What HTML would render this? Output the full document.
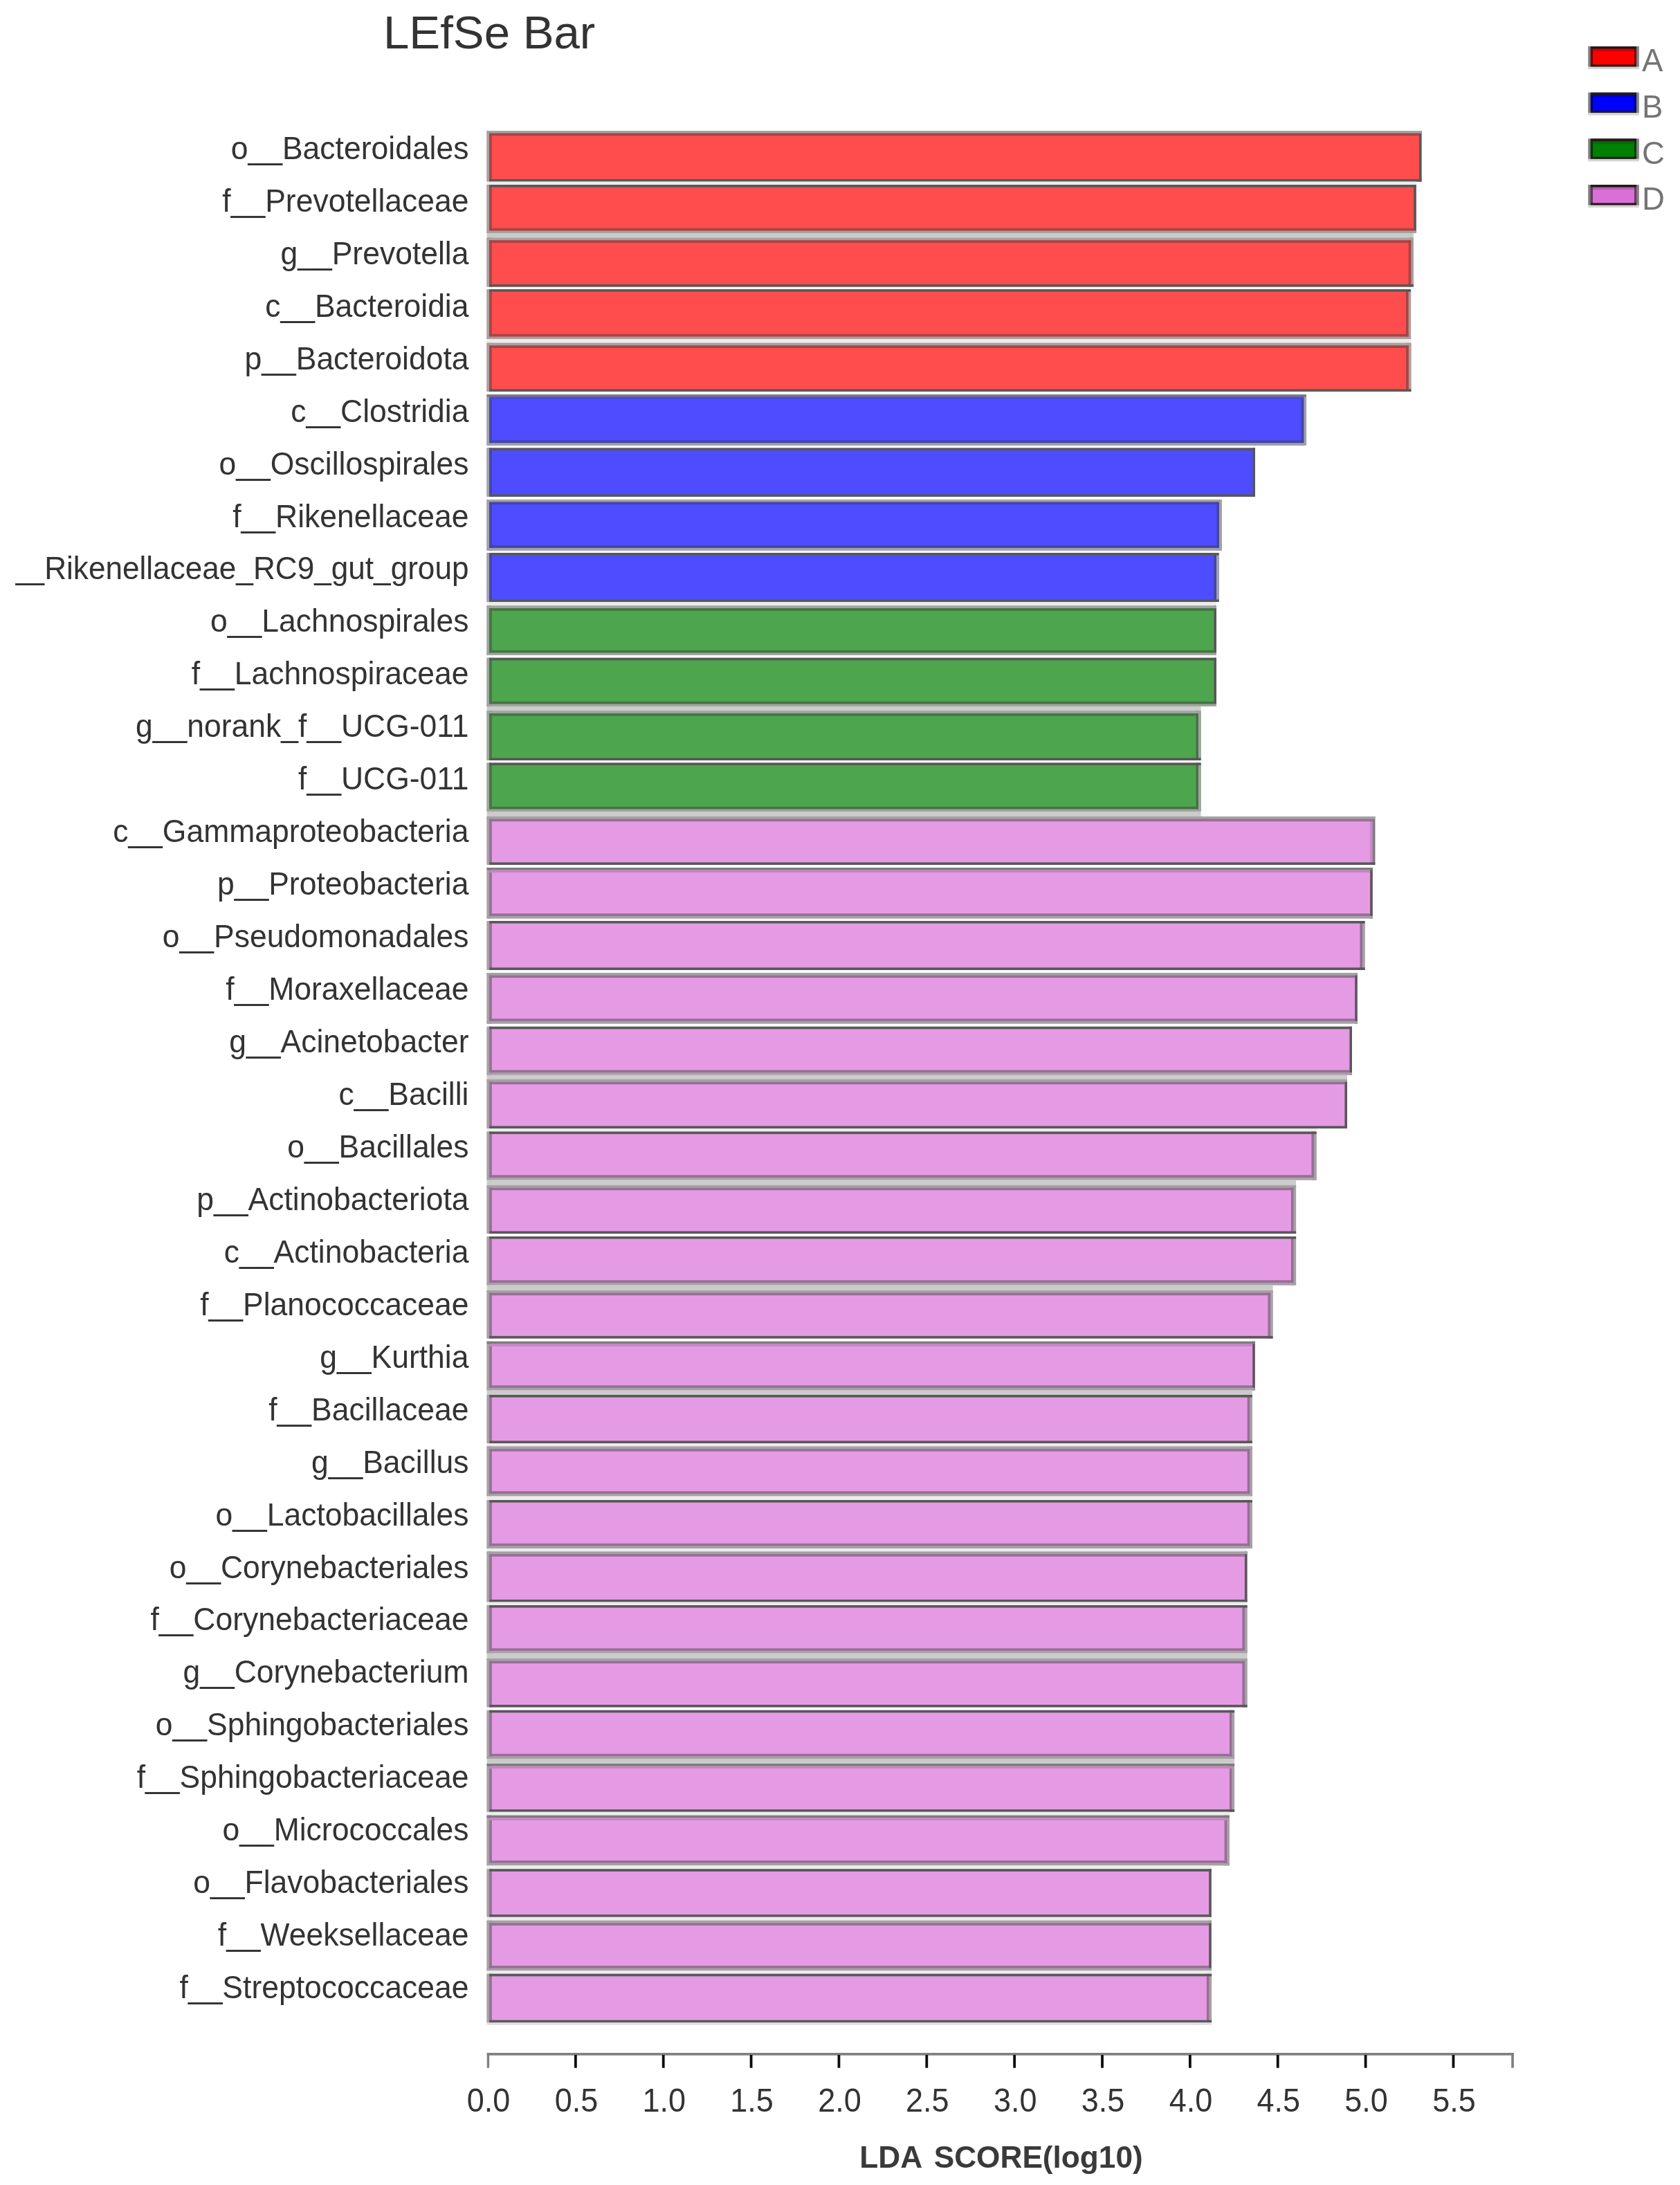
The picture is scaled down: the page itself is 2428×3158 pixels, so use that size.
<!DOCTYPE html>
<html><head><meta charset="utf-8"><title>LEfSe Bar</title>
<style>
html,body{margin:0;padding:0;background:#fff;}
svg{display:block;filter:blur(0.7px);}
text{font-family:"Liberation Sans",Arial,sans-serif;}
.yl{font-size:44.5px;fill:#333;text-anchor:end;}
.xl{font-size:45px;fill:#333;text-anchor:middle;}
.lg{font-size:45.5px;fill:#747474;}
</style></head><body>
<svg width="2428" height="3158" viewBox="0 0 2428 3158">
<defs><clipPath id="lc"><rect x="22" y="780" width="700" height="90"/></clipPath></defs>
<rect width="2428" height="3158" fill="#fff"/>
<text x="554" y="70" font-size="67.2" fill="#333">LEfSe Bar</text>

<rect x="703.60" y="189.00" width="1350.90" height="73.50" fill="#ff4d4d"/>
<rect x="703.60" y="189.00" width="3.60" height="73.50" fill="#a3a3a3"/>
<rect x="707.20" y="189.00" width="3.60" height="73.50" fill="#a34545"/>
<rect x="2050.90" y="189.00" width="3.60" height="73.50" fill="#585858"/>
<rect x="703.60" y="189.00" width="1350.90" height="3.60" fill="#a3a3a3"/>
<rect x="707.20" y="192.60" width="1343.70" height="3.60" fill="#a34545"/>
<rect x="707.20" y="258.90" width="1347.30" height="3.60" fill="#585858"/>
<rect x="703.60" y="262.50" width="1343.15" height="4.50" fill="#ececec"/>
<text class="yl" transform="translate(677.5,229.8) scale(1,1.045)">o__Bacteroidales</text>
<rect x="703.60" y="267.00" width="1343.15" height="70.00" fill="#ff4d4d"/>
<rect x="703.60" y="267.00" width="3.60" height="70.00" fill="#a3a3a3"/>
<rect x="707.20" y="267.00" width="3.60" height="70.00" fill="#a34545"/>
<rect x="2043.15" y="267.00" width="3.60" height="70.00" fill="#585858"/>
<rect x="707.20" y="267.00" width="1339.55" height="3.60" fill="#585858"/>
<rect x="703.60" y="333.40" width="1343.15" height="3.60" fill="#a3a3a3"/>
<rect x="707.20" y="329.80" width="1335.95" height="3.60" fill="#a34545"/>
<rect x="703.60" y="337.00" width="1339.25" height="6.75" fill="#cbcbcb"/>
<text class="yl" transform="translate(677.5,305.8) scale(1,1.045)">f__Prevotellaceae</text>
<rect x="703.60" y="343.75" width="1339.25" height="70.75" fill="#ff4d4d"/>
<rect x="703.60" y="343.75" width="3.60" height="70.75" fill="#a3a3a3"/>
<rect x="707.20" y="343.75" width="3.60" height="70.75" fill="#a34545"/>
<rect x="2039.25" y="343.75" width="3.60" height="70.75" fill="#a3a3a3"/>
<rect x="2035.65" y="343.75" width="3.60" height="70.75" fill="#a34545"/>
<rect x="703.60" y="343.75" width="1339.25" height="3.60" fill="#a3a3a3"/>
<rect x="707.20" y="347.35" width="1332.05" height="3.60" fill="#a34545"/>
<rect x="707.20" y="410.90" width="1335.65" height="3.60" fill="#585858"/>
<text class="yl" transform="translate(677.5,381.7) scale(1,1.045)">g__Prevotella</text>
<rect x="703.60" y="418.00" width="1335.50" height="72.00" fill="#ff4d4d"/>
<rect x="703.60" y="418.00" width="3.60" height="72.00" fill="#a3a3a3"/>
<rect x="707.20" y="418.00" width="3.60" height="72.00" fill="#a34545"/>
<rect x="2035.50" y="418.00" width="3.60" height="72.00" fill="#a3a3a3"/>
<rect x="2031.90" y="418.00" width="3.60" height="72.00" fill="#a34545"/>
<rect x="707.20" y="418.00" width="1331.90" height="3.60" fill="#585858"/>
<rect x="703.60" y="486.40" width="1335.50" height="3.60" fill="#a3a3a3"/>
<rect x="707.20" y="482.80" width="1328.30" height="3.60" fill="#a34545"/>
<rect x="703.60" y="490.00" width="1335.50" height="5.75" fill="#ececec"/>
<text class="yl" transform="translate(677.5,457.7) scale(1,1.045)">c__Bacteroidia</text>
<rect x="703.60" y="495.75" width="1335.75" height="70.25" fill="#ff4d4d"/>
<rect x="703.60" y="495.75" width="3.60" height="70.25" fill="#a3a3a3"/>
<rect x="707.20" y="495.75" width="3.60" height="70.25" fill="#a34545"/>
<rect x="2035.75" y="495.75" width="3.60" height="70.25" fill="#a3a3a3"/>
<rect x="2032.15" y="495.75" width="3.60" height="70.25" fill="#a34545"/>
<rect x="703.60" y="495.75" width="1335.75" height="3.60" fill="#a3a3a3"/>
<rect x="707.20" y="499.35" width="1328.55" height="3.60" fill="#a34545"/>
<rect x="707.20" y="562.40" width="1332.15" height="3.60" fill="#585858"/>
<text class="yl" transform="translate(677.5,533.6) scale(1,1.045)">p__Bacteroidota</text>
<rect x="703.60" y="570.00" width="1184.25" height="73.75" fill="#4d4dff"/>
<rect x="703.60" y="570.00" width="3.60" height="73.75" fill="#a3a3a3"/>
<rect x="707.20" y="570.00" width="3.60" height="73.75" fill="#4545a3"/>
<rect x="1884.25" y="570.00" width="3.60" height="73.75" fill="#a3a3a3"/>
<rect x="1880.65" y="570.00" width="3.60" height="73.75" fill="#4545a3"/>
<rect x="703.60" y="570.00" width="1184.25" height="3.60" fill="#7c7c7c"/>
<rect x="707.20" y="573.60" width="1177.05" height="3.60" fill="#4a4ad8"/>
<rect x="703.60" y="640.15" width="1184.25" height="3.60" fill="#a3a3a3"/>
<rect x="707.20" y="636.55" width="1177.05" height="3.60" fill="#4545a3"/>
<text class="yl" transform="translate(677.5,609.5) scale(1,1.045)">c__Clostridia</text>
<rect x="703.60" y="647.50" width="1110.40" height="70.50" fill="#4d4dff"/>
<rect x="703.60" y="647.50" width="3.60" height="70.50" fill="#a3a3a3"/>
<rect x="707.20" y="647.50" width="3.60" height="70.50" fill="#4545a3"/>
<rect x="1810.40" y="647.50" width="3.60" height="70.50" fill="#585858"/>
<rect x="707.20" y="647.50" width="1106.80" height="3.60" fill="#585858"/>
<rect x="707.20" y="714.40" width="1106.80" height="3.60" fill="#585858"/>
<text class="yl" transform="translate(677.5,685.5) scale(1,1.045)">o__Oscillospirales</text>
<rect x="703.60" y="722.00" width="1062.00" height="73.50" fill="#4d4dff"/>
<rect x="703.60" y="722.00" width="3.60" height="73.50" fill="#a3a3a3"/>
<rect x="707.20" y="722.00" width="3.60" height="73.50" fill="#4545a3"/>
<rect x="1762.00" y="722.00" width="3.60" height="73.50" fill="#a3a3a3"/>
<rect x="1758.40" y="722.00" width="3.60" height="73.50" fill="#4545a3"/>
<rect x="703.60" y="722.00" width="1062.00" height="3.60" fill="#a3a3a3"/>
<rect x="707.20" y="725.60" width="1054.80" height="3.60" fill="#4545a3"/>
<rect x="703.60" y="791.90" width="1062.00" height="3.60" fill="#a3a3a3"/>
<rect x="707.20" y="788.30" width="1054.80" height="3.60" fill="#4545a3"/>
<text class="yl" transform="translate(677.5,761.5) scale(1,1.045)">f__Rikenellaceae</text>
<rect x="703.60" y="799.00" width="1058.00" height="71.00" fill="#4d4dff"/>
<rect x="703.60" y="799.00" width="3.60" height="71.00" fill="#a3a3a3"/>
<rect x="707.20" y="799.00" width="3.60" height="71.00" fill="#4545a3"/>
<rect x="1758.00" y="799.00" width="3.60" height="71.00" fill="#a3a3a3"/>
<rect x="1754.40" y="799.00" width="3.60" height="71.00" fill="#4545a3"/>
<rect x="707.20" y="799.00" width="1054.40" height="3.60" fill="#585858"/>
<rect x="707.20" y="866.40" width="1054.40" height="3.60" fill="#585858"/>
<rect x="703.60" y="870.00" width="1054.40" height="5.50" fill="#ececec"/>
<g clip-path="url(#lc)">
<text class="yl" transform="translate(677.5,837.4) scale(1,1.045)" textLength="687" lengthAdjust="spacingAndGlyphs">g__Rikenellaceae_RC9_gut_group</text>
</g>
<rect x="703.60" y="875.50" width="1054.40" height="71.50" fill="#4da64d"/>
<rect x="703.60" y="875.50" width="3.60" height="71.50" fill="#a3a3a3"/>
<rect x="707.20" y="875.50" width="3.60" height="71.50" fill="#457445"/>
<rect x="1754.40" y="875.50" width="3.60" height="71.50" fill="#585858"/>
<rect x="703.60" y="875.50" width="1054.40" height="3.60" fill="#a3a3a3"/>
<rect x="707.20" y="879.10" width="1047.20" height="3.60" fill="#457445"/>
<rect x="703.60" y="943.40" width="1054.40" height="3.60" fill="#a3a3a3"/>
<rect x="707.20" y="939.80" width="1047.20" height="3.60" fill="#457445"/>
<text class="yl" transform="translate(677.5,913.4) scale(1,1.045)">o__Lachnospirales</text>
<rect x="703.60" y="950.75" width="1054.40" height="70.25" fill="#4da64d"/>
<rect x="703.60" y="950.75" width="3.60" height="70.25" fill="#a3a3a3"/>
<rect x="707.20" y="950.75" width="3.60" height="70.25" fill="#457445"/>
<rect x="1754.40" y="950.75" width="3.60" height="70.25" fill="#585858"/>
<rect x="707.20" y="950.75" width="1050.80" height="3.60" fill="#585858"/>
<rect x="703.60" y="1017.40" width="1054.40" height="3.60" fill="#a3a3a3"/>
<rect x="707.20" y="1013.80" width="1047.20" height="3.60" fill="#457445"/>
<rect x="703.60" y="1021.00" width="1032.00" height="6.50" fill="#cbcbcb"/>
<text class="yl" transform="translate(677.5,989.3) scale(1,1.045)">f__Lachnospiraceae</text>
<rect x="703.60" y="1027.50" width="1032.00" height="71.50" fill="#4da64d"/>
<rect x="703.60" y="1027.50" width="3.60" height="71.50" fill="#a3a3a3"/>
<rect x="707.20" y="1027.50" width="3.60" height="71.50" fill="#457445"/>
<rect x="1732.00" y="1027.50" width="3.60" height="71.50" fill="#a3a3a3"/>
<rect x="1728.40" y="1027.50" width="3.60" height="71.50" fill="#457445"/>
<rect x="703.60" y="1027.50" width="1032.00" height="3.60" fill="#a3a3a3"/>
<rect x="707.20" y="1031.10" width="1024.80" height="3.60" fill="#457445"/>
<rect x="707.20" y="1095.40" width="1028.40" height="3.60" fill="#585858"/>
<text class="yl" transform="translate(677.5,1065.2) scale(1,1.045)">g__norank_f__UCG-011</text>
<rect x="703.60" y="1102.50" width="1032.00" height="70.50" fill="#4da64d"/>
<rect x="703.60" y="1102.50" width="3.60" height="70.50" fill="#a3a3a3"/>
<rect x="707.20" y="1102.50" width="3.60" height="70.50" fill="#457445"/>
<rect x="1732.00" y="1102.50" width="3.60" height="70.50" fill="#a3a3a3"/>
<rect x="1728.40" y="1102.50" width="3.60" height="70.50" fill="#457445"/>
<rect x="707.20" y="1102.50" width="1028.40" height="3.60" fill="#585858"/>
<rect x="703.60" y="1169.40" width="1032.00" height="3.60" fill="#a3a3a3"/>
<rect x="707.20" y="1165.80" width="1024.80" height="3.60" fill="#457445"/>
<rect x="703.60" y="1173.00" width="1032.00" height="7.00" fill="#cbcbcb"/>
<text class="yl" transform="translate(677.5,1141.2) scale(1,1.045)">f__UCG-011</text>
<rect x="703.60" y="1180.00" width="1283.75" height="70.00" fill="#e59be3"/>
<rect x="703.60" y="1180.00" width="3.60" height="70.00" fill="#a3a3a3"/>
<rect x="707.20" y="1180.00" width="3.60" height="70.00" fill="#966e95"/>
<rect x="1983.75" y="1180.00" width="3.60" height="70.00" fill="#7c7c7c"/>
<rect x="1980.15" y="1180.00" width="3.60" height="70.00" fill="#c388c2"/>
<rect x="703.60" y="1180.00" width="1283.75" height="3.60" fill="#a3a3a3"/>
<rect x="707.20" y="1183.60" width="1276.55" height="3.60" fill="#966e95"/>
<rect x="707.20" y="1246.40" width="1280.15" height="3.60" fill="#585858"/>
<text class="yl" transform="translate(677.5,1217.2) scale(1,1.045)">c__Gammaproteobacteria</text>
<rect x="703.60" y="1254.00" width="1280.15" height="73.50" fill="#e59be3"/>
<rect x="703.60" y="1254.00" width="3.60" height="73.50" fill="#a3a3a3"/>
<rect x="707.20" y="1254.00" width="3.60" height="73.50" fill="#966e95"/>
<rect x="1980.15" y="1254.00" width="3.60" height="73.50" fill="#585858"/>
<rect x="703.60" y="1254.00" width="1280.15" height="3.60" fill="#7c7c7c"/>
<rect x="707.20" y="1257.60" width="1272.95" height="3.60" fill="#c388c2"/>
<rect x="703.60" y="1323.90" width="1280.15" height="3.60" fill="#a3a3a3"/>
<rect x="707.20" y="1320.30" width="1272.95" height="3.60" fill="#966e95"/>
<text class="yl" transform="translate(677.5,1293.1) scale(1,1.045)">p__Proteobacteria</text>
<rect x="703.60" y="1331.00" width="1269.00" height="71.00" fill="#e59be3"/>
<rect x="703.60" y="1331.00" width="3.60" height="71.00" fill="#a3a3a3"/>
<rect x="707.20" y="1331.00" width="3.60" height="71.00" fill="#966e95"/>
<rect x="1969.00" y="1331.00" width="3.60" height="71.00" fill="#a3a3a3"/>
<rect x="1965.40" y="1331.00" width="3.60" height="71.00" fill="#966e95"/>
<rect x="707.20" y="1331.00" width="1265.40" height="3.60" fill="#585858"/>
<rect x="707.20" y="1398.40" width="1265.40" height="3.60" fill="#585858"/>
<text class="yl" transform="translate(677.5,1369.0) scale(1,1.045)">o__Pseudomonadales</text>
<rect x="703.60" y="1406.00" width="1258.15" height="73.50" fill="#e59be3"/>
<rect x="703.60" y="1406.00" width="3.60" height="73.50" fill="#a3a3a3"/>
<rect x="707.20" y="1406.00" width="3.60" height="73.50" fill="#966e95"/>
<rect x="1958.15" y="1406.00" width="3.60" height="73.50" fill="#585858"/>
<rect x="703.60" y="1406.00" width="1258.15" height="3.60" fill="#a3a3a3"/>
<rect x="707.20" y="1409.60" width="1250.95" height="3.60" fill="#966e95"/>
<rect x="703.60" y="1475.90" width="1258.15" height="3.60" fill="#a3a3a3"/>
<rect x="707.20" y="1472.30" width="1250.95" height="3.60" fill="#966e95"/>
<text class="yl" transform="translate(677.5,1445.0) scale(1,1.045)">f__Moraxellaceae</text>
<rect x="703.60" y="1483.75" width="1250.40" height="70.00" fill="#e59be3"/>
<rect x="703.60" y="1483.75" width="3.60" height="70.00" fill="#a3a3a3"/>
<rect x="707.20" y="1483.75" width="3.60" height="70.00" fill="#966e95"/>
<rect x="1950.40" y="1483.75" width="3.60" height="70.00" fill="#585858"/>
<rect x="707.20" y="1483.75" width="1246.80" height="3.60" fill="#585858"/>
<rect x="703.60" y="1550.15" width="1250.40" height="3.60" fill="#a3a3a3"/>
<rect x="707.20" y="1546.55" width="1243.20" height="3.60" fill="#966e95"/>
<rect x="703.60" y="1553.75" width="1243.40" height="6.25" fill="#cbcbcb"/>
<text class="yl" transform="translate(677.5,1521.0) scale(1,1.045)">g__Acinetobacter</text>
<rect x="703.60" y="1560.00" width="1243.40" height="71.00" fill="#e59be3"/>
<rect x="703.60" y="1560.00" width="3.60" height="71.00" fill="#a3a3a3"/>
<rect x="707.20" y="1560.00" width="3.60" height="71.00" fill="#966e95"/>
<rect x="1943.40" y="1560.00" width="3.60" height="71.00" fill="#585858"/>
<rect x="703.60" y="1560.00" width="1243.40" height="3.60" fill="#a3a3a3"/>
<rect x="707.20" y="1563.60" width="1236.20" height="3.60" fill="#966e95"/>
<rect x="707.20" y="1627.40" width="1239.80" height="3.60" fill="#585858"/>
<rect x="703.60" y="1631.00" width="1199.00" height="4.50" fill="#ececec"/>
<text class="yl" transform="translate(677.5,1596.9) scale(1,1.045)">c__Bacilli</text>
<rect x="703.60" y="1635.50" width="1199.00" height="70.00" fill="#e59be3"/>
<rect x="703.60" y="1635.50" width="3.60" height="70.00" fill="#a3a3a3"/>
<rect x="707.20" y="1635.50" width="3.60" height="70.00" fill="#966e95"/>
<rect x="1899.00" y="1635.50" width="3.60" height="70.00" fill="#a3a3a3"/>
<rect x="1895.40" y="1635.50" width="3.60" height="70.00" fill="#966e95"/>
<rect x="707.20" y="1635.50" width="1195.40" height="3.60" fill="#585858"/>
<rect x="703.60" y="1701.90" width="1199.00" height="3.60" fill="#a3a3a3"/>
<rect x="707.20" y="1698.30" width="1191.80" height="3.60" fill="#966e95"/>
<rect x="703.60" y="1705.50" width="1169.50" height="7.50" fill="#cbcbcb"/>
<text class="yl" transform="translate(677.5,1672.8) scale(1,1.045)">o__Bacillales</text>
<rect x="703.60" y="1713.00" width="1169.50" height="70.00" fill="#e59be3"/>
<rect x="703.60" y="1713.00" width="3.60" height="70.00" fill="#a3a3a3"/>
<rect x="707.20" y="1713.00" width="3.60" height="70.00" fill="#966e95"/>
<rect x="1869.50" y="1713.00" width="3.60" height="70.00" fill="#a3a3a3"/>
<rect x="1865.90" y="1713.00" width="3.60" height="70.00" fill="#966e95"/>
<rect x="703.60" y="1713.00" width="1169.50" height="3.60" fill="#a3a3a3"/>
<rect x="707.20" y="1716.60" width="1162.30" height="3.60" fill="#966e95"/>
<rect x="707.20" y="1779.40" width="1165.90" height="3.60" fill="#585858"/>
<text class="yl" transform="translate(677.5,1748.8) scale(1,1.045)">p__Actinobacteriota</text>
<rect x="703.60" y="1787.00" width="1169.50" height="70.50" fill="#e59be3"/>
<rect x="703.60" y="1787.00" width="3.60" height="70.50" fill="#a3a3a3"/>
<rect x="707.20" y="1787.00" width="3.60" height="70.50" fill="#966e95"/>
<rect x="1869.50" y="1787.00" width="3.60" height="70.50" fill="#a3a3a3"/>
<rect x="1865.90" y="1787.00" width="3.60" height="70.50" fill="#966e95"/>
<rect x="707.20" y="1787.00" width="1165.90" height="3.60" fill="#585858"/>
<rect x="703.60" y="1853.90" width="1169.50" height="3.60" fill="#a3a3a3"/>
<rect x="707.20" y="1850.30" width="1162.30" height="3.60" fill="#966e95"/>
<rect x="703.60" y="1857.50" width="1136.00" height="7.50" fill="#cbcbcb"/>
<text class="yl" transform="translate(677.5,1824.8) scale(1,1.045)">c__Actinobacteria</text>
<rect x="703.60" y="1865.00" width="1136.00" height="69.50" fill="#e59be3"/>
<rect x="703.60" y="1865.00" width="3.60" height="69.50" fill="#a3a3a3"/>
<rect x="707.20" y="1865.00" width="3.60" height="69.50" fill="#966e95"/>
<rect x="1836.00" y="1865.00" width="3.60" height="69.50" fill="#a3a3a3"/>
<rect x="1832.40" y="1865.00" width="3.60" height="69.50" fill="#966e95"/>
<rect x="703.60" y="1865.00" width="1136.00" height="3.60" fill="#a3a3a3"/>
<rect x="707.20" y="1868.60" width="1128.80" height="3.60" fill="#966e95"/>
<rect x="707.20" y="1930.90" width="1132.40" height="3.60" fill="#585858"/>
<text class="yl" transform="translate(677.5,1900.7) scale(1,1.045)">f__Planococcaceae</text>
<rect x="703.60" y="1938.75" width="1110.15" height="70.75" fill="#e59be3"/>
<rect x="703.60" y="1938.75" width="3.60" height="70.75" fill="#a3a3a3"/>
<rect x="707.20" y="1938.75" width="3.60" height="70.75" fill="#966e95"/>
<rect x="1810.15" y="1938.75" width="3.60" height="70.75" fill="#585858"/>
<rect x="703.60" y="1938.75" width="1110.15" height="3.60" fill="#7c7c7c"/>
<rect x="707.20" y="1942.35" width="1102.95" height="3.60" fill="#c388c2"/>
<rect x="703.60" y="2005.90" width="1110.15" height="3.60" fill="#a3a3a3"/>
<rect x="707.20" y="2002.30" width="1102.95" height="3.60" fill="#966e95"/>
<rect x="703.60" y="2009.50" width="1106.25" height="6.50" fill="#cbcbcb"/>
<text class="yl" transform="translate(677.5,1976.7) scale(1,1.045)">g__Kurthia</text>
<rect x="703.60" y="2016.00" width="1106.25" height="70.00" fill="#e59be3"/>
<rect x="703.60" y="2016.00" width="3.60" height="70.00" fill="#a3a3a3"/>
<rect x="707.20" y="2016.00" width="3.60" height="70.00" fill="#966e95"/>
<rect x="1806.25" y="2016.00" width="3.60" height="70.00" fill="#a3a3a3"/>
<rect x="1802.65" y="2016.00" width="3.60" height="70.00" fill="#966e95"/>
<rect x="707.20" y="2016.00" width="1102.65" height="3.60" fill="#585858"/>
<rect x="707.20" y="2082.40" width="1102.65" height="3.60" fill="#585858"/>
<rect x="703.60" y="2086.00" width="1106.25" height="4.50" fill="#ececec"/>
<text class="yl" transform="translate(677.5,2052.6) scale(1,1.045)">f__Bacillaceae</text>
<rect x="703.60" y="2090.50" width="1106.25" height="72.00" fill="#e59be3"/>
<rect x="703.60" y="2090.50" width="3.60" height="72.00" fill="#a3a3a3"/>
<rect x="707.20" y="2090.50" width="3.60" height="72.00" fill="#966e95"/>
<rect x="1806.25" y="2090.50" width="3.60" height="72.00" fill="#a3a3a3"/>
<rect x="1802.65" y="2090.50" width="3.60" height="72.00" fill="#966e95"/>
<rect x="703.60" y="2090.50" width="1106.25" height="3.60" fill="#a3a3a3"/>
<rect x="707.20" y="2094.10" width="1099.05" height="3.60" fill="#966e95"/>
<rect x="703.60" y="2158.90" width="1106.25" height="3.60" fill="#a3a3a3"/>
<rect x="707.20" y="2155.30" width="1099.05" height="3.60" fill="#966e95"/>
<rect x="703.60" y="2162.50" width="1106.25" height="5.50" fill="#ececec"/>
<text class="yl" transform="translate(677.5,2128.6) scale(1,1.045)">g__Bacillus</text>
<rect x="703.60" y="2168.00" width="1106.25" height="70.00" fill="#e59be3"/>
<rect x="703.60" y="2168.00" width="3.60" height="70.00" fill="#a3a3a3"/>
<rect x="707.20" y="2168.00" width="3.60" height="70.00" fill="#966e95"/>
<rect x="1806.25" y="2168.00" width="3.60" height="70.00" fill="#a3a3a3"/>
<rect x="1802.65" y="2168.00" width="3.60" height="70.00" fill="#966e95"/>
<rect x="707.20" y="2168.00" width="1102.65" height="3.60" fill="#585858"/>
<rect x="703.60" y="2234.40" width="1106.25" height="3.60" fill="#a3a3a3"/>
<rect x="707.20" y="2230.80" width="1099.05" height="3.60" fill="#966e95"/>
<rect x="703.60" y="2238.00" width="1098.90" height="4.50" fill="#ececec"/>
<text class="yl" transform="translate(677.5,2204.5) scale(1,1.045)">o__Lactobacillales</text>
<rect x="703.60" y="2242.50" width="1098.90" height="73.00" fill="#e59be3"/>
<rect x="703.60" y="2242.50" width="3.60" height="73.00" fill="#a3a3a3"/>
<rect x="707.20" y="2242.50" width="3.60" height="73.00" fill="#966e95"/>
<rect x="1798.90" y="2242.50" width="3.60" height="73.00" fill="#585858"/>
<rect x="703.60" y="2242.50" width="1098.90" height="3.60" fill="#a3a3a3"/>
<rect x="707.20" y="2246.10" width="1091.70" height="3.60" fill="#966e95"/>
<rect x="707.20" y="2311.90" width="1095.30" height="3.60" fill="#585858"/>
<rect x="703.60" y="2315.50" width="1098.90" height="4.50" fill="#ececec"/>
<text class="yl" transform="translate(677.5,2280.5) scale(1,1.045)">o__Corynebacteriales</text>
<rect x="703.60" y="2320.00" width="1099.00" height="69.50" fill="#e59be3"/>
<rect x="703.60" y="2320.00" width="3.60" height="69.50" fill="#a3a3a3"/>
<rect x="707.20" y="2320.00" width="3.60" height="69.50" fill="#966e95"/>
<rect x="1799.00" y="2320.00" width="3.60" height="69.50" fill="#a3a3a3"/>
<rect x="1795.40" y="2320.00" width="3.60" height="69.50" fill="#966e95"/>
<rect x="707.20" y="2320.00" width="1095.40" height="3.60" fill="#585858"/>
<rect x="703.60" y="2385.90" width="1099.00" height="3.60" fill="#a3a3a3"/>
<rect x="707.20" y="2382.30" width="1091.80" height="3.60" fill="#966e95"/>
<rect x="703.60" y="2389.50" width="1099.00" height="7.50" fill="#cbcbcb"/>
<text class="yl" transform="translate(677.5,2356.4) scale(1,1.045)">f__Corynebacteriaceae</text>
<rect x="703.60" y="2397.00" width="1099.00" height="70.50" fill="#e59be3"/>
<rect x="703.60" y="2397.00" width="3.60" height="70.50" fill="#a3a3a3"/>
<rect x="707.20" y="2397.00" width="3.60" height="70.50" fill="#966e95"/>
<rect x="1799.00" y="2397.00" width="3.60" height="70.50" fill="#a3a3a3"/>
<rect x="1795.40" y="2397.00" width="3.60" height="70.50" fill="#966e95"/>
<rect x="703.60" y="2397.00" width="1099.00" height="3.60" fill="#a3a3a3"/>
<rect x="707.20" y="2400.60" width="1091.80" height="3.60" fill="#966e95"/>
<rect x="707.20" y="2463.90" width="1095.40" height="3.60" fill="#585858"/>
<text class="yl" transform="translate(677.5,2432.4) scale(1,1.045)">g__Corynebacterium</text>
<rect x="703.60" y="2471.75" width="1080.50" height="70.25" fill="#e59be3"/>
<rect x="703.60" y="2471.75" width="3.60" height="70.25" fill="#a3a3a3"/>
<rect x="707.20" y="2471.75" width="3.60" height="70.25" fill="#966e95"/>
<rect x="1780.50" y="2471.75" width="3.60" height="70.25" fill="#a3a3a3"/>
<rect x="1776.90" y="2471.75" width="3.60" height="70.25" fill="#966e95"/>
<rect x="707.20" y="2471.75" width="1076.90" height="3.60" fill="#585858"/>
<rect x="703.60" y="2538.40" width="1080.50" height="3.60" fill="#a3a3a3"/>
<rect x="707.20" y="2534.80" width="1073.30" height="3.60" fill="#966e95"/>
<rect x="703.60" y="2542.00" width="1080.50" height="7.00" fill="#cbcbcb"/>
<text class="yl" transform="translate(677.5,2508.3) scale(1,1.045)">o__Sphingobacteriales</text>
<rect x="703.60" y="2549.00" width="1080.50" height="69.75" fill="#e59be3"/>
<rect x="703.60" y="2549.00" width="3.60" height="69.75" fill="#a3a3a3"/>
<rect x="707.20" y="2549.00" width="3.60" height="69.75" fill="#966e95"/>
<rect x="1780.50" y="2549.00" width="3.60" height="69.75" fill="#a3a3a3"/>
<rect x="1776.90" y="2549.00" width="3.60" height="69.75" fill="#966e95"/>
<rect x="703.60" y="2549.00" width="1080.50" height="3.60" fill="#7c7c7c"/>
<rect x="707.20" y="2552.60" width="1073.30" height="3.60" fill="#c388c2"/>
<rect x="707.20" y="2615.15" width="1076.90" height="3.60" fill="#585858"/>
<rect x="703.60" y="2618.75" width="1073.25" height="5.00" fill="#ececec"/>
<text class="yl" transform="translate(677.5,2584.3) scale(1,1.045)">f__Sphingobacteriaceae</text>
<rect x="703.60" y="2623.75" width="1073.25" height="72.50" fill="#e59be3"/>
<rect x="703.60" y="2623.75" width="3.60" height="72.50" fill="#a3a3a3"/>
<rect x="707.20" y="2623.75" width="3.60" height="72.50" fill="#966e95"/>
<rect x="1773.25" y="2623.75" width="3.60" height="72.50" fill="#a3a3a3"/>
<rect x="1769.65" y="2623.75" width="3.60" height="72.50" fill="#966e95"/>
<rect x="703.60" y="2623.75" width="1073.25" height="3.60" fill="#7c7c7c"/>
<rect x="707.20" y="2627.35" width="1066.05" height="3.60" fill="#c388c2"/>
<rect x="703.60" y="2692.65" width="1073.25" height="3.60" fill="#a3a3a3"/>
<rect x="707.20" y="2689.05" width="1066.05" height="3.60" fill="#966e95"/>
<rect x="703.60" y="2696.25" width="1047.15" height="5.00" fill="#ececec"/>
<text class="yl" transform="translate(677.5,2660.2) scale(1,1.045)">o__Micrococcales</text>
<rect x="703.60" y="2701.25" width="1047.15" height="69.50" fill="#e59be3"/>
<rect x="703.60" y="2701.25" width="3.60" height="69.50" fill="#a3a3a3"/>
<rect x="707.20" y="2701.25" width="3.60" height="69.50" fill="#966e95"/>
<rect x="1747.15" y="2701.25" width="3.60" height="69.50" fill="#585858"/>
<rect x="707.20" y="2701.25" width="1043.55" height="3.60" fill="#585858"/>
<rect x="707.20" y="2767.15" width="1043.55" height="3.60" fill="#585858"/>
<rect x="703.60" y="2770.75" width="1047.15" height="5.00" fill="#ececec"/>
<text class="yl" transform="translate(677.5,2736.2) scale(1,1.045)">o__Flavobacteriales</text>
<rect x="703.60" y="2775.75" width="1047.15" height="72.50" fill="#e59be3"/>
<rect x="703.60" y="2775.75" width="3.60" height="72.50" fill="#a3a3a3"/>
<rect x="707.20" y="2775.75" width="3.60" height="72.50" fill="#966e95"/>
<rect x="1747.15" y="2775.75" width="3.60" height="72.50" fill="#585858"/>
<rect x="703.60" y="2775.75" width="1047.15" height="3.60" fill="#a3a3a3"/>
<rect x="707.20" y="2779.35" width="1039.95" height="3.60" fill="#966e95"/>
<rect x="703.60" y="2844.65" width="1047.15" height="3.60" fill="#a3a3a3"/>
<rect x="707.20" y="2841.05" width="1039.95" height="3.60" fill="#966e95"/>
<rect x="703.60" y="2848.25" width="1047.15" height="4.50" fill="#ececec"/>
<text class="yl" transform="translate(677.5,2812.1) scale(1,1.045)">f__Weeksellaceae</text>
<rect x="703.60" y="2852.75" width="1047.50" height="70.50" fill="#e59be3"/>
<rect x="703.60" y="2852.75" width="3.60" height="70.50" fill="#a3a3a3"/>
<rect x="707.20" y="2852.75" width="3.60" height="70.50" fill="#966e95"/>
<rect x="1747.50" y="2852.75" width="3.60" height="70.50" fill="#a3a3a3"/>
<rect x="1743.90" y="2852.75" width="3.60" height="70.50" fill="#966e95"/>
<rect x="707.20" y="2852.75" width="1043.90" height="3.60" fill="#585858"/>
<rect x="707.20" y="2919.65" width="1043.90" height="3.60" fill="#585858"/>
<rect x="703.60" y="2923.25" width="1047.50" height="3.40" fill="#dedede"/>
<text class="yl" transform="translate(677.5,2888.1) scale(1,1.045)">f__Streptococcaceae</text>
<rect x="703.75" y="2967.00" width="1484.10" height="3.70" fill="#808080"/>
<rect x="703.75" y="2967.00" width="3.40" height="21.75" fill="#808080"/>
<rect x="2184.20" y="2967.00" width="3.70" height="21.75" fill="#808080"/>
<text class="xl" transform="translate(706.0,3052) scale(1,1.06)">0.0</text>
<rect x="829.96" y="2970.00" width="3.80" height="18.75" fill="#0c0c0c"/>
<text class="xl" transform="translate(832.9,3052) scale(1,1.06)">0.5</text>
<rect x="956.82" y="2970.00" width="3.80" height="18.75" fill="#0c0c0c"/>
<text class="xl" transform="translate(959.7,3052) scale(1,1.06)">1.0</text>
<rect x="1083.68" y="2970.00" width="3.80" height="18.75" fill="#0c0c0c"/>
<text class="xl" transform="translate(1086.6,3052) scale(1,1.06)">1.5</text>
<rect x="1210.54" y="2970.00" width="3.80" height="18.75" fill="#0c0c0c"/>
<text class="xl" transform="translate(1213.4,3052) scale(1,1.06)">2.0</text>
<rect x="1337.40" y="2970.00" width="3.80" height="18.75" fill="#0c0c0c"/>
<text class="xl" transform="translate(1340.3,3052) scale(1,1.06)">2.5</text>
<rect x="1464.26" y="2970.00" width="3.80" height="18.75" fill="#0c0c0c"/>
<text class="xl" transform="translate(1467.2,3052) scale(1,1.06)">3.0</text>
<rect x="1591.12" y="2970.00" width="3.80" height="18.75" fill="#0c0c0c"/>
<text class="xl" transform="translate(1594.0,3052) scale(1,1.06)">3.5</text>
<rect x="1717.98" y="2970.00" width="3.80" height="18.75" fill="#0c0c0c"/>
<text class="xl" transform="translate(1720.9,3052) scale(1,1.06)">4.0</text>
<rect x="1844.84" y="2970.00" width="3.80" height="18.75" fill="#0c0c0c"/>
<text class="xl" transform="translate(1847.7,3052) scale(1,1.06)">4.5</text>
<rect x="1971.70" y="2970.00" width="3.80" height="18.75" fill="#0c0c0c"/>
<text class="xl" transform="translate(1974.6,3052) scale(1,1.06)">5.0</text>
<rect x="2098.56" y="2970.00" width="3.80" height="18.75" fill="#0c0c0c"/>
<text class="xl" transform="translate(2101.5,3052) scale(1,1.06)">5.5</text>
<text x="1447" y="3133" font-size="44.2" font-weight="bold" fill="#3a3a3a" text-anchor="middle" word-spacing="6">LDA SCORE(log10)</text>
<rect x="2295.20" y="93.00" width="73.60" height="7.00" fill="#d6d6d6"/>
<rect x="2295.20" y="67.00" width="73.60" height="29.40" fill="#808080"/>
<rect x="2298.80" y="67.00" width="66.20" height="29.40" fill="#27181a"/>
<rect x="2298.80" y="70.70" width="66.20" height="22.50" fill="#7a0000"/>
<rect x="2302.00" y="70.70" width="60.00" height="22.50" fill="#d80000"/>
<rect x="2302.00" y="74.20" width="60.00" height="19.00" fill="#ff0000"/>
<text class="lg" x="2373" y="103.3">A</text>
<rect x="2295.20" y="159.67" width="73.60" height="7.00" fill="#d6d6d6"/>
<rect x="2295.20" y="133.67" width="73.60" height="29.40" fill="#808080"/>
<rect x="2298.80" y="133.67" width="66.20" height="29.40" fill="#27181a"/>
<rect x="2298.80" y="137.37" width="66.20" height="22.50" fill="#00007a"/>
<rect x="2302.00" y="137.37" width="60.00" height="22.50" fill="#0000d8"/>
<rect x="2302.00" y="140.87" width="60.00" height="19.00" fill="#0000ff"/>
<text class="lg" x="2373" y="170.0">B</text>
<rect x="2295.20" y="226.34" width="73.60" height="7.00" fill="#d6d6d6"/>
<rect x="2295.20" y="200.34" width="73.60" height="29.40" fill="#808080"/>
<rect x="2298.80" y="200.34" width="66.20" height="29.40" fill="#27181a"/>
<rect x="2298.80" y="204.04" width="66.20" height="22.50" fill="#003c00"/>
<rect x="2302.00" y="204.04" width="60.00" height="22.50" fill="#006c00"/>
<rect x="2302.00" y="207.54" width="60.00" height="19.00" fill="#008000"/>
<text class="lg" x="2373" y="236.6">C</text>
<rect x="2295.20" y="293.01" width="73.60" height="7.00" fill="#d6d6d6"/>
<rect x="2295.20" y="267.01" width="73.60" height="29.40" fill="#808080"/>
<rect x="2298.80" y="267.01" width="66.20" height="29.40" fill="#27181a"/>
<rect x="2298.80" y="270.71" width="66.20" height="22.50" fill="#6a3668"/>
<rect x="2302.00" y="270.71" width="60.00" height="22.50" fill="#b85eb4"/>
<rect x="2302.00" y="274.21" width="60.00" height="19.00" fill="#da70d6"/>
<text class="lg" x="2373" y="303.3">D</text>
</svg></body></html>
